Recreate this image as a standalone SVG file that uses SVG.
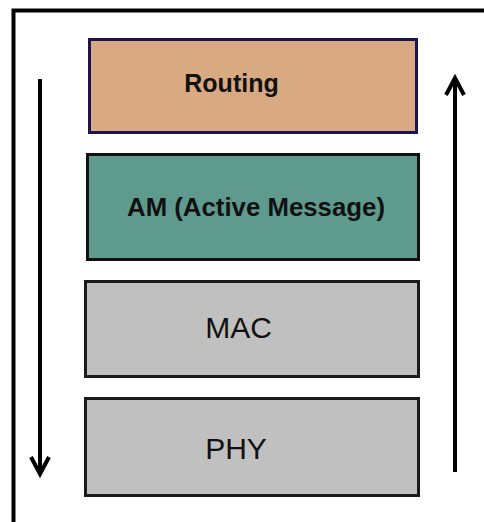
<svg xmlns="http://www.w3.org/2000/svg" width="484" height="522" viewBox="0 0 484 522">
  <style>
    .layer { stroke-width: 3; }
    .gray { fill: #c0c0c0; stroke: #1a1a1a; }
    .lbl { font-family: "Liberation Sans", Arial, sans-serif; fill: #111; text-anchor: middle; }
    .bold { font-weight: bold; font-size: 25px; }
    .reg { font-size: 30px; }
    .flow { stroke: #000; stroke-width: 4; fill: none; }
  </style>

  <!-- background and frame -->
  <rect x="0" y="0" width="484" height="522" fill="#ffffff"/>
  <path d="M13.5 522 V10.5 H484" fill="none" stroke="#000" stroke-width="4"/>

  <!-- protocol stack layers -->
  <g id="routing">
    <rect class="layer" x="89.5" y="39.5" width="327" height="93" fill="#d9a982" stroke="#1c1450"/>
    <text class="lbl bold" x="231.5" y="92" fill="#1a0a0a">Routing</text>
  </g>
  <g id="am">
    <rect class="layer" x="87.5" y="154.5" width="331" height="105" fill="#5f9a8f" stroke="#101010"/>
    <text class="lbl bold" x="256" y="216" textLength="258" lengthAdjust="spacingAndGlyphs">AM (Active Message)</text>
  </g>
  <g id="mac">
    <rect class="layer gray" x="85.5" y="281.5" width="333" height="95"/>
    <text class="lbl reg" x="238.5" y="338">MAC</text>
  </g>
  <g id="phy">
    <rect class="layer gray" x="85.5" y="398.5" width="333" height="97"/>
    <text class="lbl reg" x="236" y="459">PHY</text>
  </g>

  <!-- direction arrows: down the stack on the left, up on the right -->
  <g id="connectors">
    <line class="flow" x1="40" y1="79" x2="40" y2="473"/>
    <polyline class="flow" points="31,457 40,474 49,457"/>
    <line class="flow" x1="455" y1="472" x2="455" y2="79"/>
    <polyline class="flow" points="446,95 455,78 464,95"/>
  </g>
</svg>
